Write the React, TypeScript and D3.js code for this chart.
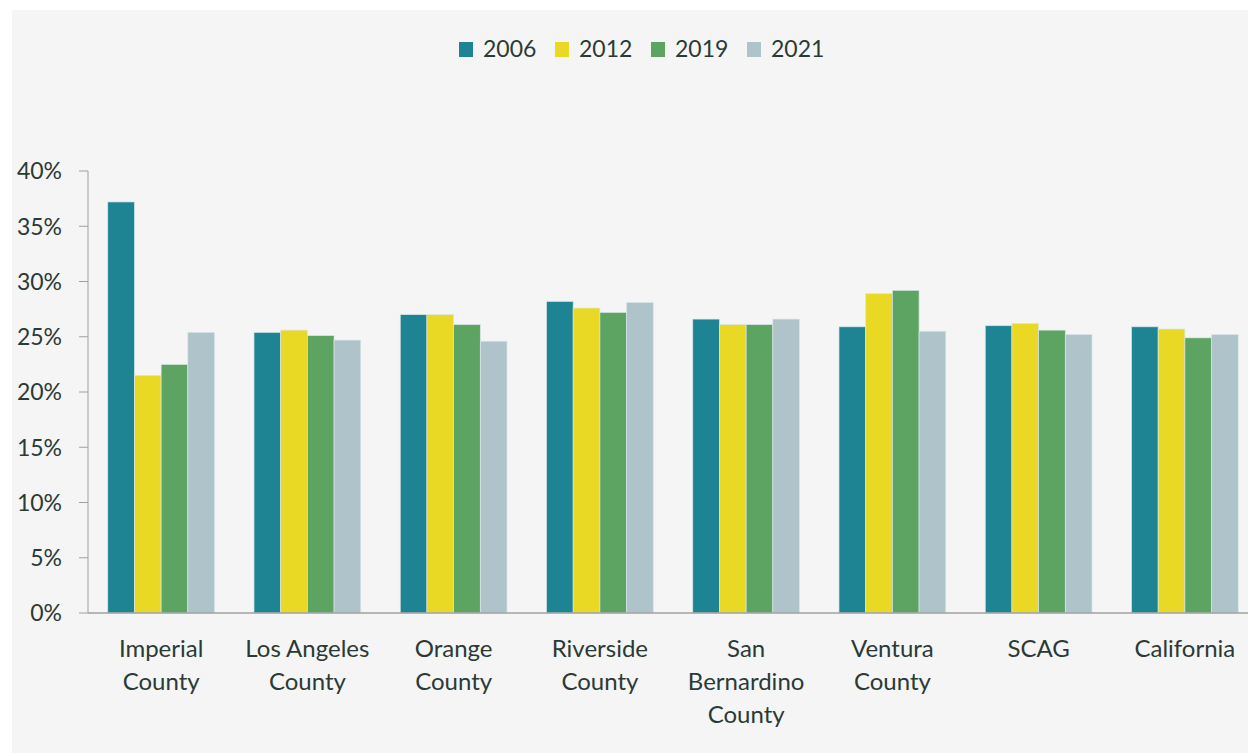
import React from "react";
import * as d3 from "d3";

const categories: string[][] = [
  ["Imperial", "County"],
  ["Los Angeles", "County"],
  ["Orange", "County"],
  ["Riverside", "County"],
  ["San", "Bernardino", "County"],
  ["Ventura", "County"],
  ["SCAG"],
  ["California"],
];
const seriesNames = ["2006", "2012", "2019", "2021"];
const values2006 = [37.2, 25.4, 27.0, 28.2, 26.6, 25.9, 26.0, 25.9];
const values2012 = [21.5, 25.6, 27.0, 27.6, 26.1, 28.9, 26.2, 25.7];
const values2019 = [22.5, 25.1, 26.1, 27.2, 26.1, 29.2, 25.6, 24.9];
const values2021 = [25.4, 24.7, 24.6, 28.1, 26.6, 25.5, 25.2, 25.2];
const yTicks = [0, 5, 10, 15, 20, 25, 30, 35, 40];
const colors = ["#1e8494", "#e9d925", "#5da463", "#aec3ca"];

const W = 1248;
const H = 753;
const FONT = "Lato, 'Open Sans', sans-serif";
const TEXT = "#2b3a35";

export default function App() {
  const series = [values2006, values2012, values2019, values2021];
  const keys = categories.map((c) => c.join(" "));
  const x = d3.scaleBand<string>().domain(keys).range([88, 1258]).paddingInner(0.27).paddingOuter(0.135);
  const xs = d3.scaleBand<string>().domain(seriesNames).range([0, x.bandwidth()]);
  const y = d3.scaleLinear().domain([0, 40]).range([613, 171]);

  const legendX = [459, 555, 651, 747];

  return (
    <svg width={W} height={H} style={{ position: "absolute", left: 0, top: 0 }} fontFamily={FONT}>
      <rect x={0} y={0} width={W} height={H} fill="#ffffff" />
      <rect x={12} y={10} width={W - 12} height={H - 10} fill="#f5f5f5" />
      {/* legend */}
      {seriesNames.map((s, i) => (
        <g key={s}>
          <rect x={legendX[i]} y={42} width={14} height={15} fill={colors[i]} />
          <text x={legendX[i] + 24} y={49} dy="0.36em" fontSize={23} fill={TEXT}>
            {s}
          </text>
        </g>
      ))}
      {/* y axis */}
      <line x1={88} x2={88} y1={y(40)} y2={y(0)} stroke="#a0a0a0" strokeWidth={1} />
      {yTicks.map((t) => (
        <g key={t}>
          <line x1={79} x2={88} y1={y(t)} y2={y(t)} stroke="#a0a0a0" strokeWidth={1} />
          <text x={62} y={y(t)} dy="0.36em" textAnchor="end" fontSize={23} fill={TEXT}>
            {t}%
          </text>
        </g>
      ))}
      {/* bars */}
      {keys.map((k, ci) => (
        <g key={k} transform={`translate(${x(k)},0)`}>
          {series.map((vals, si) => (
            <rect
              key={si}
              x={xs(seriesNames[si])}
              y={y(vals[ci])}
              width={xs.bandwidth()}
              height={y(0) - y(vals[ci])}
              fill={colors[si]}
              stroke="#d8e6e8"
              strokeWidth={0.7}
            />
          ))}
        </g>
      ))}
      {/* x axis */}
      <line x1={88} x2={W} y1={613} y2={613} stroke="#a0a0a0" strokeWidth={1.5} />
      {keys.map((k, ci) => (
        <text key={k} x={(x(k) as number) + x.bandwidth() / 2} y={648} textAnchor="middle" fontSize={24} fill={TEXT}>
          {categories[ci].map((line, li) => (
            <tspan key={li} x={(x(k) as number) + x.bandwidth() / 2} y={648 + li * 33} dy="0.36em">
              {line}
            </tspan>
          ))}
        </text>
      ))}
    </svg>
  );
}
